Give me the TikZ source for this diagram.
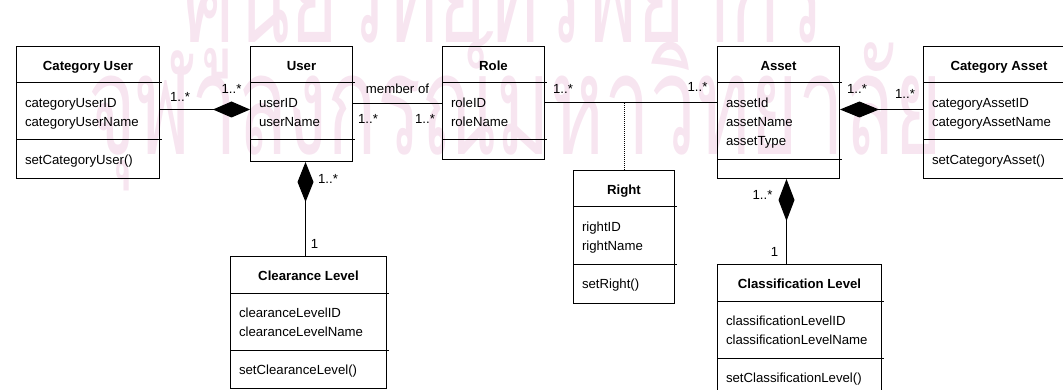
\documentclass[tikz,border=0pt]{standalone}
\usepackage{fontspec}
\setmainfont{Liberation Sans}
\newfontfamily\thaifont[Script=Thai]{Loma}
\usetikzlibrary{arrows.meta}

\definecolor{wmpink}{RGB}{247,229,240}
\newcommand{\umlfont}{\fontsize{13.2}{19}\selectfont}

% class box: name, top left, width, title, attributes, attr height, methods, method height
\newcommand{\umlclass}[8]{%
  \node[classbox, minimum width=#3, minimum height=37+#6+#8] (#1) at (#2) {};
  \node[anchor=base, inner sep=0, font=\umlfont\bfseries] at ([yshift=-24.5]#1.north) {#4};
  \draw ([yshift=-37]#1.north west) -- ++(#3+3,0);
  \draw ([yshift=-37-#6]#1.north west) -- ++(#3+3,0);
  \node[classtext] at ([xshift=8.5,yshift=-37-24+14]#1.north west) {\rule{0pt}{14pt}#5};
  \node[classtext] at ([xshift=8.5,yshift=-37-#6-24+14]#1.north west) {\rule{0pt}{14pt}#7};
}

\begin{document}
\begin{tikzpicture}[x=1pt, y=1pt, line width=1pt,
  classbox/.style={draw, anchor=north west, inner sep=0},
  classtext/.style={anchor=north west, inner sep=0, align=left, font=\umlfont},
  mult/.style={inner sep=0, font=\umlfont},
  watermark/.style={anchor=base, inner sep=0, text=wmpink},
  composition/.style={-{Diamond[length=#1, width=16pt]}}]
\useasboundingbox (0,0) rectangle (1063,-390);
\clip (0,0) rectangle (1063,-390);

% Watermark
\node[watermark] (wmtop) at (503.5,-43)
  {\resizebox{641pt}{\height}{\thaifont\fontsize{140}{140}\selectfont ศูนย์วิทยทรัพยากร}};
\node[watermark] (wmbottom) at (515,-155)
  {\resizebox{854pt}{\height}{\thaifont\fontsize{140}{140}\selectfont จุฬาลงกรณ์มหาวิทยาลัย}};

% Classes
\umlclass{catuser}{16,-46}{143}{Category User}{categoryUserID\\categoryUserName}{57}{setCategoryUser()}{38}
\umlclass{user}{250,-46}{102}{User}{userID\\userName}{57}{}{21}
\umlclass{role}{442,-46}{102}{Role}{roleID\\roleName}{57}{}{19}
\umlclass{asset}{717,-46}{122}{Asset}{assetId\\assetName\\assetType}{77}{}{18}
\umlclass{catasset}{923,-46}{151}{Category Asset}{categoryAssetID\\categoryAssetName}{57}{setCategoryAsset()}{38}
\umlclass{right}{573,-170}{101}{Right}{rightID\\rightName}{57}{setRight()}{39}
\umlclass{clearance}{230,-256}{156}{Clearance Level}{clearanceLevelID\\clearanceLevelName}{57}{setClearanceLevel()}{38}
\umlclass{classification}{717,-264}{164}{Classification Level}{classificationLevelID\\classificationLevelName}{57}{setClassificationLevel()}{38}

% Category User -- User
\coordinate (cu-r) at ([yshift=3]catuser.east);
\coordinate (u-l) at (cu-r -| user.west);
\draw[composition=37pt] (cu-r) -- (u-l);
\node[mult] at ([shift={(20,13)}]cu-r) {1..*};
\node[mult] at ([shift={(-18.5,21)}]u-l) {1..*};

% User -- Role
\coordinate (u-r) at (user.east);
\coordinate (ro-l) at (u-r -| role.west);
\draw (u-r) -- (ro-l) node[mult, midway, yshift=15.5] {member of};
\node[mult] at ([shift={(15,-15)}]u-r) {1..*};
\node[mult] at ([shift={(-17,-15)}]ro-l) {1..*};

% Role -- Asset, with Right
\coordinate (ro-r) at (role.east);
\coordinate (as-l) at (ro-r -| asset.west);
\draw (ro-r) -- (as-l);
\draw[densely dotted] (right.north) -- (right.north |- ro-r);
\node[mult] at ([shift={(18,14)}]ro-r) {1..*};
\node[mult] at ([shift={(-19.5,16)}]as-l) {1..*};

% Asset -- Category Asset
\coordinate (ca-l) at ([yshift=3]catasset.west);
\coordinate (as-r) at (ca-l -| asset.east);
\draw[composition=39pt] (ca-l) -- (as-r);
\node[mult] at ([shift={(17,21)}]as-r) {1..*};
\node[mult] at ([shift={(-18,16)}]ca-l) {1..*};

% User -- Clearance Level
\coordinate (cl-t) at ([xshift=-3]clearance.north);
\coordinate (u-b) at (cl-t |- user.south);
\draw[composition=40pt] (cl-t) -- (u-b);
\node[mult] at ([shift={(22.5,-16.5)}]u-b) {1..*};
\node[mult] at ([shift={(9,12.5)}]cl-t) {1};

% Asset -- Classification Level
\coordinate (as-b) at ([xshift=8]asset.south);
\coordinate (cf-t) at (as-b |- classification.north);
\draw[composition=42pt] (cf-t) -- (as-b);
\node[mult] at ([shift={(-24,-16)}]as-b) {1..*};
\node[mult] at ([shift={(-12,12)}]cf-t) {1};
\end{tikzpicture}
\end{document}
